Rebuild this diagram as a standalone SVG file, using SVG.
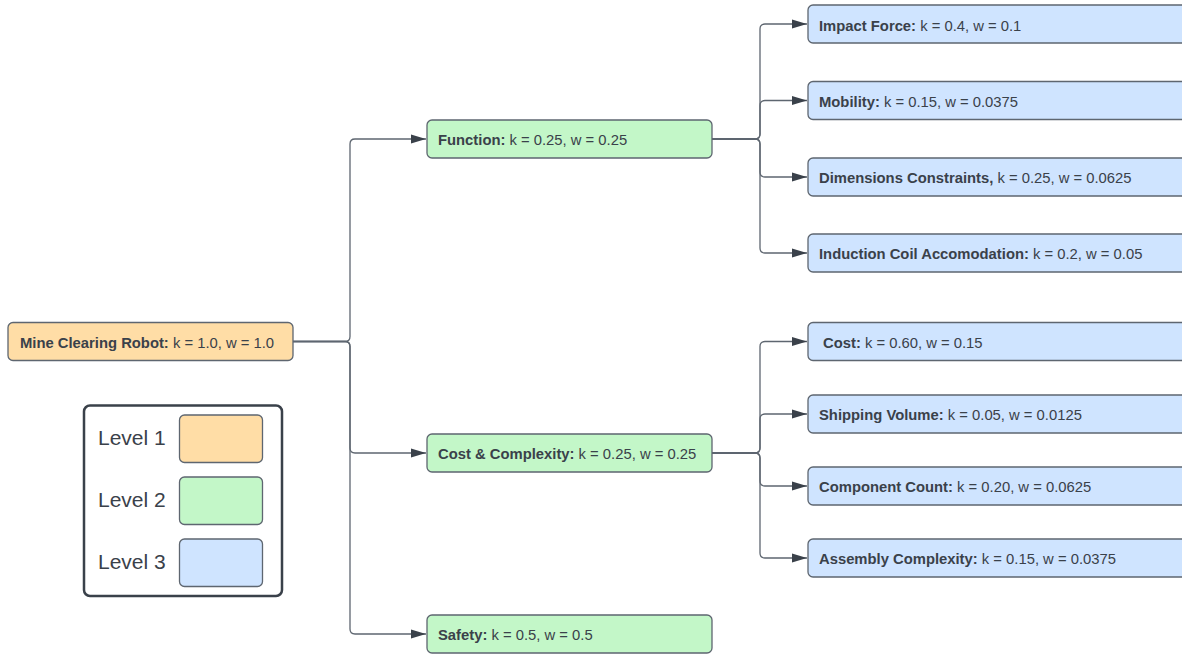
<svg xmlns="http://www.w3.org/2000/svg" width="1182" height="654" viewBox="0 0 1182 654">
<defs>
<style>
.n rect{stroke:#5e6670;stroke-width:1.3}
.l1{fill:#ffdda6}
.l2{fill:#c3f7c8}
.l3{fill:#cfe4ff}
text{font-family:"Liberation Sans",Arial,sans-serif;font-size:14.8px;fill:#3a414a}
.b{font-weight:bold}
.c path{fill:none;stroke:#5e6670;stroke-width:1.3}
.lg{font-size:21px}
</style>
<marker id="ah" markerUnits="userSpaceOnUse" markerWidth="16" markerHeight="10" refX="15" refY="5" orient="auto">
<path d="M0,0.5 L15,5 L0,9.5 z" fill="#3a414a"/>
</marker>
</defs>
<rect width="1182" height="654" fill="#ffffff"/>
<g class="c">
<path d="M293,341.5 H345 q5,0 5,-5 V144 q0,-5 5,-5 H426" marker-end="url(#ah)"/>
<path d="M293,341.5 H345 q5,0 5,5 V448 q0,5 5,5 H426" marker-end="url(#ah)"/>
<path d="M293,341.5 H345 q5,0 5,5 V629 q0,5 5,5 H426" marker-end="url(#ah)"/>
<path d="M712,139 H755 q5,0 5,-5 V29 q0,-5 5,-5 H807" marker-end="url(#ah)"/>
<path d="M712,139 H755 q5,0 5,-5 V105.5 q0,-5 5,-5 H807" marker-end="url(#ah)"/>
<path d="M712,139 H755 q5,0 5,5 V172 q0,5 5,5 H807" marker-end="url(#ah)"/>
<path d="M712,139 H755 q5,0 5,5 V248 q0,5 5,5 H807" marker-end="url(#ah)"/>
<path d="M712,453 H755 q5,0 5,-5 V346.5 q0,-5 5,-5 H807" marker-end="url(#ah)"/>
<path d="M712,453 H755 q5,0 5,-5 V419 q0,-5 5,-5 H807" marker-end="url(#ah)"/>
<path d="M712,453 H755 q5,0 5,5 V481 q0,5 5,5 H807" marker-end="url(#ah)"/>
<path d="M712,453 H755 q5,0 5,5 V553 q0,5 5,5 H807" marker-end="url(#ah)"/>
</g>
<g id="root" class="n"><rect class="l1" x="8" y="322.5" width="285" height="38" rx="5"/><text x="20" y="347.5"><tspan class="b">Mine Clearing Robot:</tspan> k = 1.0, w = 1.0</text></g>
<g id="function" class="n"><rect class="l2" x="427" y="120" width="285" height="38" rx="5"/><text x="438" y="145"><tspan class="b">Function:</tspan> k = 0.25, w = 0.25</text></g>
<g id="cost-complexity" class="n"><rect class="l2" x="427" y="434" width="285" height="38" rx="5"/><text x="438" y="459"><tspan class="b">Cost &amp; Complexity:</tspan> k = 0.25, w = 0.25</text></g>
<g id="safety" class="n"><rect class="l2" x="427" y="615" width="285" height="38" rx="5"/><text x="438" y="640"><tspan class="b">Safety:</tspan> k = 0.5, w = 0.5</text></g>
<g id="impact-force" class="n"><rect class="l3" x="808" y="5" width="400" height="38" rx="5"/><text x="819" y="30.5"><tspan class="b">Impact Force:</tspan> k = 0.4, w = 0.1</text></g>
<g id="mobility" class="n"><rect class="l3" x="808" y="81.5" width="400" height="38" rx="5"/><text x="819" y="106.5"><tspan class="b">Mobility:</tspan> k = 0.15, w = 0.0375</text></g>
<g id="dimensions" class="n"><rect class="l3" x="808" y="158" width="400" height="38" rx="5"/><text x="819" y="183"><tspan class="b">Dimensions Constraints,</tspan> k = 0.25, w = 0.0625</text></g>
<g id="induction" class="n"><rect class="l3" x="808" y="234" width="400" height="38" rx="5"/><text x="819" y="259"><tspan class="b">Induction Coil Accomodation:</tspan> k = 0.2, w = 0.05</text></g>
<g id="cost" class="n"><rect class="l3" x="808" y="322.5" width="400" height="38" rx="5"/><text x="823" y="347.5"><tspan class="b">Cost:</tspan> k = 0.60, w = 0.15</text></g>
<g id="shipping" class="n"><rect class="l3" x="808" y="395" width="400" height="38" rx="5"/><text x="819" y="420"><tspan class="b">Shipping Volume:</tspan> k = 0.05, w = 0.0125</text></g>
<g id="component" class="n"><rect class="l3" x="808" y="467" width="400" height="38" rx="5"/><text x="819" y="492"><tspan class="b">Component Count:</tspan> k = 0.20, w = 0.0625</text></g>
<g id="assembly" class="n"><rect class="l3" x="808" y="539" width="400" height="38" rx="5"/><text x="819" y="564"><tspan class="b">Assembly Complexity:</tspan> k = 0.15, w = 0.0375</text></g>
<g id="legend">
<rect x="84" y="405.5" width="198" height="190.5" rx="6" fill="#ffffff" stroke="#3a414a" stroke-width="2.5"/>
<rect class="l1" x="179.5" y="415" width="83" height="47.5" rx="5" stroke="#5e6670" stroke-width="1.3"/>
<rect class="l2" x="179.5" y="477" width="83" height="47.5" rx="5" stroke="#5e6670" stroke-width="1.3"/>
<rect class="l3" x="179.5" y="539" width="83" height="47.5" rx="5" stroke="#5e6670" stroke-width="1.3"/>
<text class="lg" x="98" y="445">Level 1</text>
<text class="lg" x="98" y="507">Level 2</text>
<text class="lg" x="98" y="569">Level 3</text>
</g>
</svg>
